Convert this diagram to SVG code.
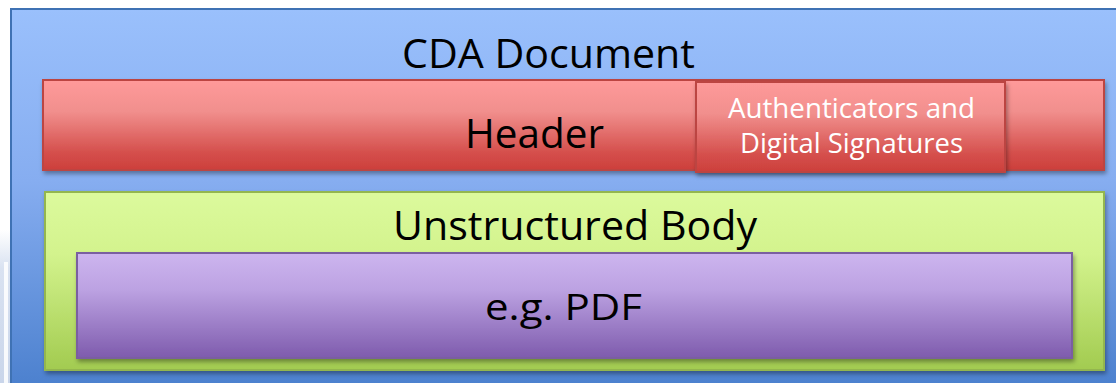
<svg xmlns="http://www.w3.org/2000/svg" width="1116" height="383" viewBox="0 0 1116 383">
  <defs>
    <linearGradient id="gBlue" x1="0" y1="0" x2="0" y2="1">
      <stop offset="0" stop-color="#9AC0FC"/>
      <stop offset="0.45" stop-color="#86ADF0"/>
      <stop offset="1" stop-color="#4A7FCD"/>
    </linearGradient>
    <linearGradient id="gRed" x1="0" y1="0" x2="0" y2="1">
      <stop offset="0" stop-color="#FF9A9A"/>
      <stop offset="0.35" stop-color="#F18F8D"/>
      <stop offset="0.8" stop-color="#D5504D"/>
      <stop offset="1" stop-color="#CC3F3B"/>
    </linearGradient>
    <linearGradient id="gGreen" x1="0" y1="0" x2="0" y2="1">
      <stop offset="0" stop-color="#DCFA9D"/>
      <stop offset="0.35" stop-color="#D3F38D"/>
      <stop offset="1" stop-color="#A2CB50"/>
    </linearGradient>
    <linearGradient id="gPurple" x1="0" y1="0" x2="0" y2="1">
      <stop offset="0" stop-color="#CDB5EF"/>
      <stop offset="0.35" stop-color="#BCA2E2"/>
      <stop offset="1" stop-color="#7E5BAD"/>
    </linearGradient>
    <linearGradient id="gStrip" x1="0" y1="0" x2="0" y2="1">
      <stop offset="0" stop-color="#FFFFFF"/>
      <stop offset="0.25" stop-color="#D9E2F1"/>
      <stop offset="1" stop-color="#C9D5EA"/>
    </linearGradient>
    <filter id="shadow" x="-5%" y="-20%" width="110%" height="150%">
      <feDropShadow dx="1.5" dy="3" stdDeviation="2" flood-color="#000" flood-opacity="0.35"/>
    </filter>
  </defs>
  <style>
    .lbl { font-family: "Open Sans", "Liberation Sans", sans-serif; fill: #000; text-anchor: middle; }
    .lblw { font-family: "Open Sans", "Liberation Sans", sans-serif; fill: #FFFFFF; text-anchor: middle; }
    .red { fill: url(#gRed); stroke: #BC4542; stroke-width: 2; filter: url(#shadow); }
  </style>
  <rect x="0" y="0" width="1116" height="383" fill="#FFFFFF"/>
  <rect x="0" y="230" width="11" height="153" fill="url(#gStrip)"/>
  <rect x="4" y="262" width="4" height="121" fill="#FFFFFF" opacity="0.85"/>

  <g id="cda-document">
    <rect x="11" y="9" width="1115" height="384" fill="url(#gBlue)" stroke="#3F72B4" stroke-width="2"/>
    <text class="lbl" x="548.5" y="68" font-size="40" textLength="293" lengthAdjust="spacingAndGlyphs">CDA Document</text>
  </g>

  <g id="header">
    <rect class="red" x="43" y="80" width="1061" height="90"/>
    <text class="lbl" x="534.5" y="148" font-size="40" textLength="139" lengthAdjust="spacingAndGlyphs">Header</text>
  </g>

  <g id="authenticators">
    <rect class="red" x="696" y="82" width="309" height="90"/>
    <text class="lblw" x="851.5" y="118" font-size="28" textLength="247" lengthAdjust="spacingAndGlyphs">Authenticators and</text>
    <text class="lblw" x="851.5" y="153" font-size="28" textLength="223" lengthAdjust="spacingAndGlyphs">Digital Signatures</text>
  </g>

  <g id="unstructured-body">
    <rect x="45" y="192" width="1059" height="178" fill="url(#gGreen)" stroke="#93B650" stroke-width="2" filter="url(#shadow)"/>
    <text class="lbl" x="575" y="240" font-size="40" textLength="364" lengthAdjust="spacingAndGlyphs">Unstructured Body</text>
  </g>

  <g id="pdf">
    <rect x="77" y="253" width="995" height="105" fill="url(#gPurple)" stroke="#7A5FA0" stroke-width="2" filter="url(#shadow)"/>
    <text class="lbl" x="563.5" y="320" font-size="36" textLength="157" lengthAdjust="spacingAndGlyphs">e.g. PDF</text>
  </g>

  <g id="connectors"></g>
</svg>
